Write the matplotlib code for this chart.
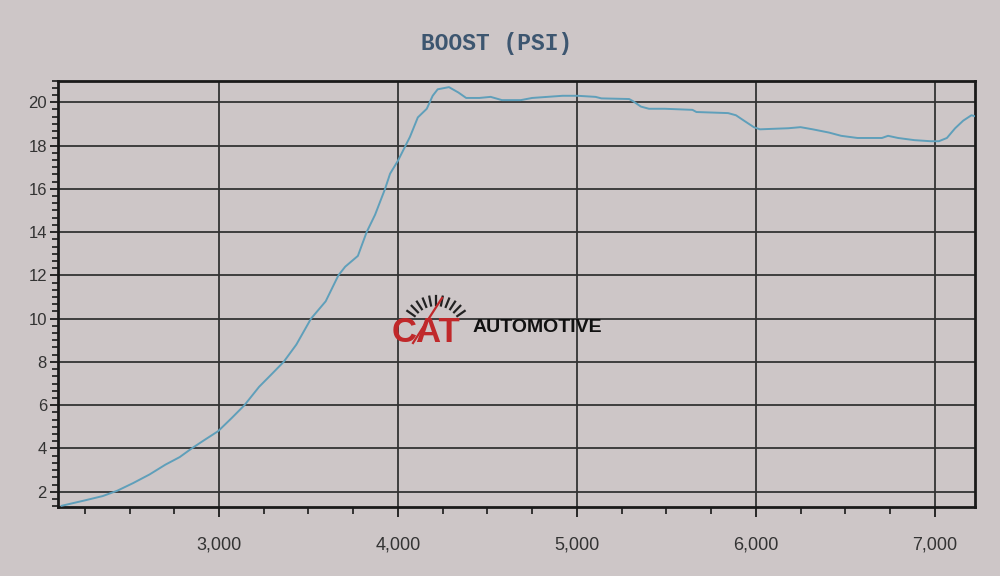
import numpy as np
import matplotlib
matplotlib.use("Agg")
import matplotlib.pyplot as plt
from matplotlib.ticker import MultipleLocator, FuncFormatter
from matplotlib.lines import Line2D

# ---- data ----
rpm = [2120, 2250, 2350, 2432, 2520, 2612, 2700, 2780, 2847, 2920, 2995, 3070,
       3142, 3224, 3290, 3361, 3432, 3514, 3596, 3667, 3705, 3776, 3825, 3872,
       3928, 3956, 4000, 4067, 4111, 4161, 4194, 4222, 4285, 4338, 4381, 4455,
       4518, 4581, 4687, 4750, 4835, 4920, 5004, 5104, 5137, 5292, 5314, 5358,
       5403, 5491, 5646, 5668, 5845, 5889, 5934, 5989, 6023, 6182, 6250, 6318,
       6409, 6477, 6568, 6705, 6739, 6795, 6886, 6977, 7023, 7068, 7114, 7159,
       7205, 7227]
boost = [1.35, 1.6, 1.8, 2.05, 2.4, 2.8, 3.25, 3.6, 4.0, 4.4, 4.8, 5.4,
         6.0, 6.85, 7.4, 8.0, 8.8, 10.0, 10.8, 12.0, 12.4, 12.9, 14.0, 14.8,
         16.0, 16.7, 17.3, 18.4, 19.3, 19.7, 20.3, 20.6, 20.7, 20.45, 20.2, 20.2,
         20.25, 20.1, 20.1, 20.2, 20.25, 20.3, 20.3, 20.25, 20.18, 20.15, 20.05, 19.8,
         19.7, 19.7, 19.65, 19.55, 19.5, 19.4, 19.15, 18.85, 18.75, 18.8, 18.85, 18.75,
         18.6, 18.45, 18.35, 18.35, 18.45, 18.35, 18.25, 18.2, 18.2, 18.35, 18.8, 19.15,
         19.4, 19.35]
x_ticks = [3000, 4000, 5000, 6000, 7000]
y_ticks = [2, 4, 6, 8, 10, 12, 14, 16, 18, 20]
title = "BOOST (PSI)"

bg = "#cdc6c7"
fig = plt.figure(figsize=(10, 5.76), dpi=100, facecolor=bg)
ax = fig.add_axes([0.058, 0.12, 0.917, 0.74])
ax.set_facecolor(bg)

ax.plot(rpm, boost, color="#5f9fba", lw=1.4, zorder=3)

ax.set_xlim(2100, 7225)
ax.set_ylim(1.3, 21.0)

ax.set_xticks(x_ticks)
ax.set_yticks(y_ticks)
ax.xaxis.set_minor_locator(MultipleLocator(250))
ax.yaxis.set_minor_locator(MultipleLocator(1 / 3))
ax.xaxis.set_major_formatter(FuncFormatter(lambda v, p: f"{int(v):,}"))

ax.grid(True, which="major", color="#333333", lw=1.3, zorder=1)
for s in ax.spines.values():
    s.set_color("#1a1a1a")
    s.set_linewidth(2.0)

ax.tick_params(axis="x", which="major", direction="out", length=7, width=1.3,
               pad=14, labelsize=13, colors="#1a1a1a", labelcolor="#333333")
ax.tick_params(axis="x", which="minor", direction="out", length=5, width=1.2,
               colors="#1a1a1a")
ax.tick_params(axis="y", which="major", direction="out", length=6, width=1.3,
               pad=2, labelsize=12, colors="#1a1a1a", labelcolor="#333333")
ax.tick_params(axis="y", which="minor", direction="out", length=4, width=1.2,
               colors="#1a1a1a")
for lab in ax.get_xticklabels() + ax.get_yticklabels():
    lab.set_family("Liberation Sans")

fig.text(0.497, 0.925, title, ha="center", va="center", fontsize=16.5,
         family="Liberation Mono", weight="bold", color="#3d5670")

# ---- logo ----
def fp(x, y):
    return x / 1000, 1 - y / 576

cx, cy = 436, 331
for ang in np.linspace(145, 35, 11):
    a = np.radians(ang)
    x0, y0 = cx + 26 * np.cos(a), cy - 26 * np.sin(a)
    x1, y1 = cx + 35 * np.cos(a), cy - 35 * np.sin(a)
    (fx0, fy0), (fx1, fy1) = fp(x0, y0), fp(x1, y1)
    fig.add_artist(Line2D([fx0, fx1], [fy0, fy1], color="#222222", lw=1.6))
(nx0, ny0), (nx1, ny1) = fp(413, 343), fp(442, 298)
fig.add_artist(Line2D([nx0, nx1], [ny0, ny1], color="#c0282a", lw=1.6))

tx, ty = fp(392, 333)
fig.text(tx, ty, "CAT", ha="left", va="center", fontsize=25,
         family="Liberation Sans", weight="bold", color="#c0282a")
tx, ty = fp(473, 328)
fig.text(tx, ty, "AUTOMOTIVE", ha="left", va="center", fontsize=14,
         family="Liberation Sans", weight="bold", color="#111111")

fig.savefig("out.png", dpi=100, facecolor=bg)
